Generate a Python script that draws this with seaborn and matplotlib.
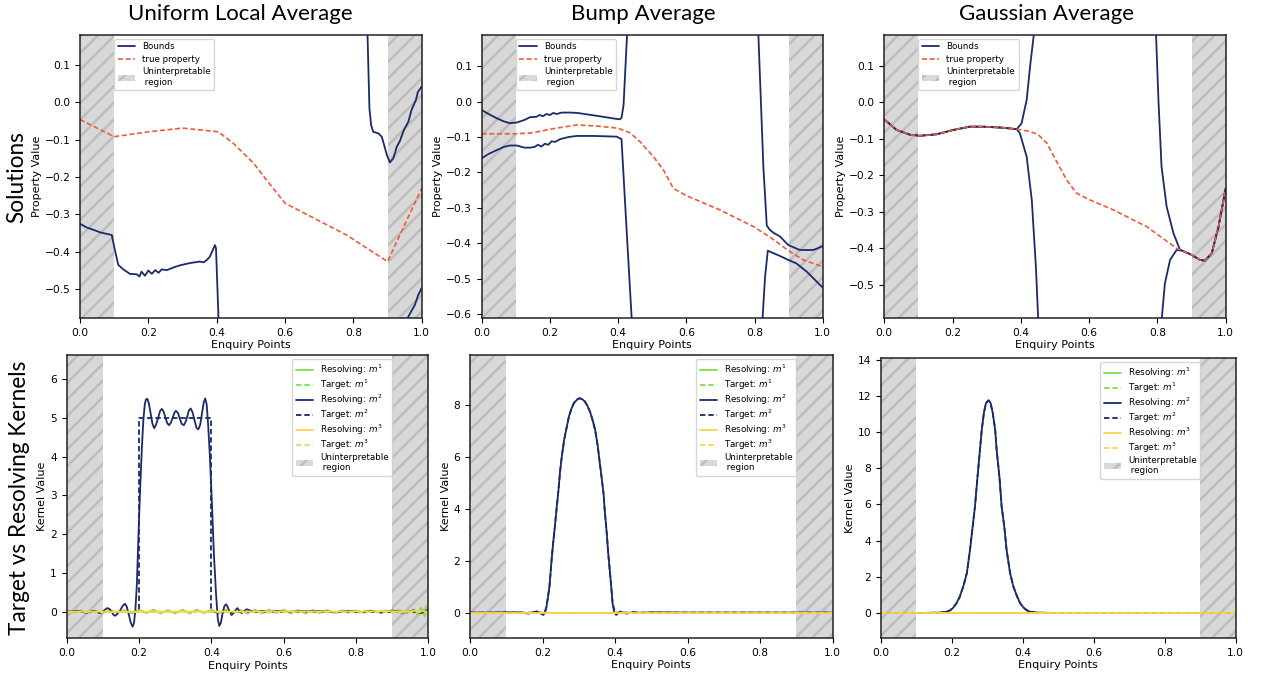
import matplotlib
matplotlib.use("Agg")
import matplotlib.pyplot as plt
from matplotlib.lines import Line2D
from matplotlib.patches import Patch
from matplotlib.ticker import MultipleLocator
import pandas as pd
import seaborn as sns

# ---------------------------------------------------------------- data
ENQUIRY_TICKS = [0.0, 0.2, 0.4, 0.6, 0.8, 1.0]
UNINTERP_SPANS = [(0.0, 0.1), (0.9, 1.0)]
COLUMN_TITLES = ["Uniform Local Average", "Bump Average", "Gaussian Average"]
ROW_TITLES = ["Solutions", "Target vs Resolving Kernels"]

# Uniform local average: true property and bounds
tl_true_x = [0.0, 0.1, 0.2, 0.3, 0.405, 0.449, 0.508, 0.546, 0.6, 0.78, 0.9, 1.0]
tl_true_y = [-0.046, -0.092, -0.079, -0.069, -0.079, -0.11, -0.163, -0.208, -0.27, -0.355, -0.426, -0.23]
tl_up_x = [0.838, 0.844, 0.847, 0.852, 0.858, 0.873, 0.883, 0.89, 0.898, 0.907, 0.917, 0.927, 0.936,
           0.948, 0.961, 0.97, 0.983, 0.989, 1.0]
tl_up_y = [0.30, 0.091, -0.016, -0.061, -0.079, -0.083, -0.092, -0.114, -0.141, -0.161, -0.15, -0.119,
           -0.104, -0.074, -0.052, -0.021, 0.006, 0.028, 0.042]
tl_lo1_x = [0.0, 0.02, 0.039, 0.059, 0.093, 0.102, 0.112, 0.127, 0.146, 0.166, 0.174, 0.18, 0.19, 0.2,
            0.21, 0.22, 0.23, 0.239, 0.254, 0.273, 0.293, 0.322, 0.351, 0.362, 0.371, 0.38, 0.395, 0.398, 0.412]
tl_lo1_y = [-0.325, -0.335, -0.341, -0.348, -0.355, -0.395, -0.435, -0.447, -0.459, -0.46, -0.466, -0.453,
            -0.464, -0.45, -0.459, -0.449, -0.456, -0.447, -0.449, -0.442, -0.436, -0.43, -0.426, -0.428,
            -0.422, -0.413, -0.382, -0.39, -0.75]
tl_lo2_x = [0.945, 0.96, 0.97, 0.98, 0.99, 1.0]
tl_lo2_y = [-0.66, -0.575, -0.558, -0.542, -0.515, -0.497]

# Bump average: true property and bounds
tm_true_x = [0.0, 0.1, 0.15, 0.2, 0.279, 0.337, 0.4, 0.435, 0.464, 0.503, 0.533, 0.562, 0.601, 0.699,
             0.797, 0.846, 0.9, 0.943, 1.0]
tm_true_y = [-0.091, -0.091, -0.088, -0.078, -0.066, -0.069, -0.075, -0.088, -0.113, -0.155, -0.193,
             -0.245, -0.266, -0.306, -0.353, -0.383, -0.421, -0.447, -0.466]
tm_up1_x = [0.0, 0.02, 0.044, 0.065, 0.083, 0.103, 0.125, 0.142, 0.16, 0.17, 0.18, 0.19, 0.2, 0.21, 0.22,
            0.235, 0.259, 0.28, 0.308, 0.35, 0.396, 0.405, 0.41, 0.416, 0.432]
tm_up1_y = [-0.024, -0.035, -0.047, -0.056, -0.061, -0.059, -0.052, -0.044, -0.043, -0.038, -0.041, -0.035,
            -0.038, -0.032, -0.035, -0.031, -0.031, -0.032, -0.036, -0.042, -0.049, -0.05, -0.046, -0.01, 0.3]
tm_up2_x = [0.805, 0.826, 0.836, 0.845, 0.855, 0.875, 0.899, 0.933, 0.972, 0.986, 1.0]
tm_up2_y = [0.35, -0.184, -0.35, -0.362, -0.37, -0.381, -0.405, -0.419, -0.419, -0.414, -0.408]
tm_lo1_x = [0.0, 0.02, 0.044, 0.065, 0.083, 0.103, 0.125, 0.142, 0.155, 0.165, 0.175, 0.185, 0.195, 0.205,
            0.215, 0.23, 0.255, 0.279, 0.33, 0.396, 0.41, 0.42, 0.445]
tm_lo1_y = [-0.16, -0.148, -0.137, -0.128, -0.124, -0.124, -0.13, -0.13, -0.128, -0.122, -0.127, -0.119,
            -0.122, -0.112, -0.114, -0.106, -0.1, -0.097, -0.097, -0.099, -0.106, -0.278, -0.7]
tm_lo2_x = [0.815, 0.831, 0.839, 0.846, 0.875, 0.899, 0.923, 0.953, 0.982, 1.0]
tm_lo2_y = [-0.75, -0.494, -0.421, -0.424, -0.436, -0.447, -0.457, -0.48, -0.508, -0.525]

# Gaussian average: true property and bounds
tr_true_x = [0.0, 0.036, 0.075, 0.104, 0.153, 0.202, 0.251, 0.29, 0.349, 0.388, 0.427, 0.451, 0.476,
             0.505, 0.534, 0.563, 0.603, 0.671, 0.769, 0.856, 0.896, 0.925, 0.939, 0.959, 0.979, 1.0]
tr_true_y = [-0.047, -0.076, -0.089, -0.092, -0.088, -0.076, -0.067, -0.067, -0.070, -0.074, -0.080,
             -0.089, -0.112, -0.163, -0.213, -0.249, -0.268, -0.295, -0.341, -0.40, -0.416, -0.432,
             -0.434, -0.414, -0.341, -0.236]
tr_up1_x = [0.0, 0.036, 0.075, 0.104, 0.153, 0.202, 0.251, 0.29, 0.349, 0.388, 0.402, 0.417, 0.427, 0.438, 0.442]
tr_up1_y = [-0.047, -0.076, -0.089, -0.092, -0.088, -0.076, -0.067, -0.067, -0.070, -0.074, -0.058, 0.006,
            0.098, 0.185, 0.30]
tr_up2_x = [0.792, 0.796, 0.803, 0.812, 0.827, 0.847, 0.866, 0.88, 0.896, 0.925, 0.939, 0.959, 0.979, 1.0]
tr_up2_y = [0.30, 0.184, 0.006, -0.176, -0.286, -0.359, -0.404, -0.41, -0.416, -0.432, -0.434, -0.414,
            -0.341, -0.236]
tr_lo1_x = [0.0, 0.036, 0.075, 0.104, 0.153, 0.202, 0.251, 0.29, 0.349, 0.388, 0.397, 0.417, 0.432, 0.444, 0.452]
tr_lo1_y = [-0.047, -0.076, -0.089, -0.092, -0.088, -0.076, -0.067, -0.067, -0.070, -0.074, -0.085, -0.149,
            -0.268, -0.45, -0.62]
tr_lo2_x = [0.81, 0.822, 0.837, 0.856, 0.871, 0.885, 0.896, 0.925, 0.939, 0.959, 0.979, 1.0]
tr_lo2_y = [-0.62, -0.496, -0.432, -0.405, -0.406, -0.412, -0.416, -0.432, -0.434, -0.414, -0.341, -0.236]

# Kernels that stay at zero over the whole domain
zero_x = [0.0, 1.0]
zero_y = [0.0, 0.0]

# Uniform local average kernels
bl_m1_x = [0.0, 0.02, 0.04, 0.06, 0.08, 0.1, 0.12, 0.14, 0.16, 0.18, 0.2, 0.22, 0.24, 0.26, 0.28, 0.3,
           0.32, 0.34, 0.36, 0.38, 0.4, 0.42, 0.44, 0.46, 0.48, 0.5, 0.52, 0.54, 0.56, 0.58, 0.6, 0.62,
           0.64, 0.66, 0.68, 0.7, 0.72, 0.74, 0.76, 0.78, 0.8, 0.82, 0.84, 0.86, 0.88, 0.9, 0.92, 0.94,
           0.96, 0.97, 0.98, 0.99, 1.0]
bl_m1_y = [0.02, -0.02, 0.03, -0.03, 0.03, -0.04, 0.04, -0.03, 0.04, -0.05, 0.05, -0.04, 0.05, -0.05,
           0.04, -0.05, 0.05, -0.05, 0.05, -0.04, 0.05, -0.05, 0.05, -0.05, 0.04, -0.05, 0.05, -0.05,
           0.05, -0.04, 0.05, -0.05, 0.04, -0.05, 0.04, -0.04, 0.04, -0.04, 0.03, -0.03, 0.03, -0.03,
           0.03, -0.02, 0.03, -0.03, 0.04, -0.05, 0.06, -0.08, 0.1, -0.12, 0.22]
bl_m2_x = [0.0, 0.028, 0.055, 0.074, 0.092, 0.102, 0.112, 0.118, 0.124, 0.129, 0.134, 0.14, 0.148,
           0.155, 0.161, 0.166, 0.171, 0.177, 0.182, 0.186, 0.19, 0.194, 0.198, 0.203, 0.208, 0.212,
           0.216, 0.219, 0.223, 0.227, 0.232, 0.237, 0.242, 0.247, 0.253, 0.258, 0.263, 0.268, 0.273,
           0.278, 0.283, 0.288, 0.293, 0.298, 0.302, 0.308, 0.313, 0.318, 0.324, 0.329, 0.334, 0.338,
           0.343, 0.348, 0.354, 0.359, 0.364, 0.369, 0.374, 0.379, 0.383, 0.387, 0.391, 0.396, 0.402,
           0.407, 0.413, 0.418, 0.422, 0.426, 0.431, 0.436, 0.441, 0.445, 0.449, 0.456, 0.464, 0.472,
           0.477, 0.484, 0.49, 0.498, 0.52, 0.54, 0.56, 0.58, 0.6, 0.65, 0.7, 0.75, 0.78, 0.81, 0.84,
           0.87, 0.9, 0.93, 0.96, 0.98, 1.0]
bl_m2_y = [0.0, 0.02, -0.03, 0.02, -0.04, 0.02, 0.09, 0.07, 0.0, -0.08, -0.11, -0.06, 0.03, 0.15, 0.2,
           0.13, -0.05, -0.28, -0.39, -0.3, 0.05, 0.7, 1.85, 3.14, 4.25, 4.95, 5.35, 5.47, 5.49, 5.38,
           5.12, 4.85, 4.73, 4.82, 5.0, 5.17, 5.23, 5.16, 5.01, 4.86, 4.81, 4.87, 5.0, 5.13, 5.18, 5.12,
           4.97, 4.84, 4.81, 4.9, 5.05, 5.19, 5.24, 5.14, 4.92, 4.74, 4.70, 4.82, 5.1, 5.4, 5.5, 5.35,
           4.85, 4.0, 2.7, 1.5, 0.45, -0.2, -0.37, -0.3, -0.05, 0.14, 0.19, 0.12, 0.03, -0.09, 0.0,
           0.09, 0.02, -0.04, 0.01, 0.06, -0.02, 0.02, -0.02, 0.02, -0.01, 0.01, 0.01, -0.02, 0.02,
           -0.02, 0.02, -0.03, 0.03, -0.03, 0.03, -0.04, 0.05]
bl_m2_target_x = [0.0, 0.2, 0.2, 0.4, 0.4, 1.0]
bl_m2_target_y = [0.0, 0.0, 5.0, 5.0, 0.0, 0.0]
bl_m3_x = [0.0, 0.25, 0.5, 0.75, 0.9, 0.93, 0.96, 1.0]
bl_m3_y = [0.0, 0.0, 0.0, 0.0, 0.01, -0.02, 0.02, 0.0]

# Bump average kernels
bm_m2_x = [0.0, 0.05, 0.1, 0.138, 0.161, 0.184, 0.202, 0.207, 0.211, 0.215, 0.219, 0.222, 0.225, 0.229,
           0.234, 0.239, 0.244, 0.248, 0.253, 0.26, 0.267, 0.273, 0.28, 0.287, 0.294, 0.298, 0.303,
           0.31, 0.317, 0.324, 0.331, 0.338, 0.345, 0.352, 0.358, 0.363, 0.368, 0.372, 0.377, 0.381,
           0.386, 0.39, 0.393, 0.398, 0.403, 0.414, 0.432, 0.45, 0.47, 0.5, 0.6, 0.8, 1.0]
bm_m2_y = [0.0, 0.0, 0.01, 0.01, -0.04, 0.05, -0.09, 0.0, 0.24, 0.6, 1.0, 1.5, 2.04, 2.65, 3.32, 4.05,
           4.74, 5.4, 6.02, 6.7, 7.18, 7.58, 7.88, 8.1, 8.2, 8.25, 8.27, 8.23, 8.14, 7.97, 7.75, 7.43,
           7.05, 6.45, 5.76, 5.2, 4.61, 3.85, 3.07, 2.3, 1.53, 0.9, 0.37, 0.0, -0.09, 0.04, -0.04, 0.02,
           -0.01, 0.01, 0.0, 0.0, 0.0]
bm_m2_target_x = [0.0, 0.2, 0.207, 0.211, 0.215, 0.219, 0.222, 0.225, 0.229, 0.234, 0.239, 0.244, 0.248,
                  0.253, 0.26, 0.267, 0.273, 0.28, 0.287, 0.294, 0.298, 0.303, 0.31, 0.317, 0.324, 0.331,
                  0.338, 0.345, 0.352, 0.358, 0.363, 0.368, 0.372, 0.377, 0.381, 0.386, 0.39, 0.393,
                  0.4, 1.0]
bm_m2_target_y = [0.0, 0.0, 0.05, 0.24, 0.6, 1.0, 1.5, 2.04, 2.65, 3.32, 4.05, 4.74, 5.4, 6.02, 6.7,
                  7.18, 7.58, 7.88, 8.1, 8.2, 8.25, 8.27, 8.23, 8.14, 7.97, 7.75, 7.43, 7.05, 6.45, 5.76,
                  5.2, 4.61, 3.85, 3.07, 2.3, 1.53, 0.9, 0.37, 0.0, 0.0]

# Gaussian average kernels
br_m2_x = [0.0, 0.1, 0.166, 0.185, 0.195, 0.204, 0.213, 0.222, 0.232, 0.242, 0.251, 0.258, 0.265, 0.272,
           0.279, 0.284, 0.29, 0.296, 0.303, 0.309, 0.315, 0.322, 0.326, 0.334, 0.34, 0.348, 0.354,
           0.364, 0.373, 0.384, 0.392, 0.402, 0.411, 0.421, 0.439, 0.5, 1.0]
br_m2_y = [0.0, 0.0, 0.02, 0.07, 0.15, 0.3, 0.55, 0.9, 1.47, 2.2, 3.5, 4.7, 5.9, 7.5, 9.02, 10.1, 11.05,
           11.6, 11.75, 11.6, 11.05, 10.1, 9.02, 7.5, 5.9, 4.7, 3.5, 2.2, 1.47, 0.9, 0.55, 0.3, 0.15,
           0.07, 0.02, 0.0, 0.0]

# axis limits per panel
TOP_YLIMS = [(-0.577, 0.18), (-0.611, 0.188), (-0.591, 0.184)]
BOTTOM_YLIMS = [(-0.69, 6.62), (-0.98, 9.94), (-1.38, 14.09)]
BOTTOM_YSTEPS = [1, 2, 2]

# ---------------------------------------------------------------- style
NAVY = "#1b2a6b"
RED = "#f25a36"
GREEN = "#7edf4c"
YELLOW = "#f8d44a"
SHADE = "gray"
SHADE_LABEL = "Uninterpretable\n region"

sns.set_style("ticks")
plt.rcParams.update({
    "font.family": ["DejaVu Sans"],
    "axes.edgecolor": "#222222",
    "axes.linewidth": 1.1,
    "xtick.color": "black",
    "ytick.color": "black",
    "text.color": "black",
    "axes.labelcolor": "black",
    "xtick.labelsize": 7.7,
    "ytick.labelsize": 7.7,
    "xtick.major.size": 3.5,
    "ytick.major.size": 3.5,
    "axes.labelsize": 8,
    "legend.fontsize": 6.3,
    "hatch.linewidth": 1.8,
})


def curve(ax, x, y, color, ls="-", lw=1.3):
    frame = pd.DataFrame({"x": x, "y": y})
    sns.lineplot(data=frame, x="x", y="y", ax=ax, color=color, linestyle=ls, linewidth=lw,
                 sort=False, estimator=None, legend=False)


def shade(ax):
    for a, b in UNINTERP_SPANS:
        ax.axvspan(a, b, facecolor=SHADE, edgecolor=SHADE, alpha=0.3, hatch="//", lw=0, zorder=1)


def shade_handle():
    return Patch(facecolor=SHADE, edgecolor=SHADE, alpha=0.3, hatch="//", lw=0, label=SHADE_LABEL)


DASH = (0, (3.0, 1.6))

fig = plt.figure(figsize=(12.61, 6.75), dpi=100)
W, H = 1261.0, 675.0


def place(left, top, right, bottom):
    return fig.add_axes([left / W, 1 - bottom / H, (right - left) / W, (bottom - top) / H])


top_axes = [place(80, 35, 421.7, 318), place(481.7, 35, 822.7, 318), place(884.3, 35, 1225.7, 318)]
bot_axes = [place(66.7, 355, 428.3, 638.3), place(470, 355, 832.7, 638), place(881, 358, 1235.7, 638)]

# ---------------------------------------------------------------- solutions
top_data = [
    (tl_true_x, tl_true_y, [(tl_up_x, tl_up_y), (tl_lo1_x, tl_lo1_y), (tl_lo2_x, tl_lo2_y)]),
    (tm_true_x, tm_true_y, [(tm_up1_x, tm_up1_y), (tm_up2_x, tm_up2_y),
                            (tm_lo1_x, tm_lo1_y), (tm_lo2_x, tm_lo2_y)]),
    (tr_true_x, tr_true_y, [(tr_up1_x, tr_up1_y), (tr_up2_x, tr_up2_y),
                            (tr_lo1_x, tr_lo1_y), (tr_lo2_x, tr_lo2_y)]),
]
for ax, (tx, ty, bounds), ylim in zip(top_axes, top_data, TOP_YLIMS):
    shade(ax)
    for bx, by in bounds:
        curve(ax, bx, by, NAVY, lw=1.3)
    curve(ax, tx, ty, RED, ls=DASH, lw=1.2)
    ax.set_xlim(0, 1)
    ax.set_ylim(*ylim)
    ax.set_xticks(ENQUIRY_TICKS)
    ax.yaxis.set_major_locator(MultipleLocator(0.1))
    ax.set_xlabel("Enquiry Points", labelpad=2)
    ax.set_ylabel("Property Value", labelpad=2)
    handles = [Line2D([], [], color=NAVY, lw=1.3, label="Bounds"),
               Line2D([], [], color=RED, ls=DASH, lw=1.2, label="true property"),
               shade_handle()]
    ax.legend(handles=handles, loc="upper left", bbox_to_anchor=(0.1, 0.986), borderaxespad=0,
              labelspacing=0.4)

# ---------------------------------------------------------------- kernels
bot_data = [
    ((bl_m1_x, bl_m1_y), (zero_x, zero_y), (bl_m2_x, bl_m2_y), (bl_m2_target_x, bl_m2_target_y),
     (bl_m3_x, bl_m3_y), (zero_x, zero_y)),
    ((zero_x, zero_y), (zero_x, zero_y), (bm_m2_x, bm_m2_y), (bm_m2_target_x, bm_m2_target_y),
     (zero_x, zero_y), (zero_x, zero_y)),
    ((zero_x, zero_y), (zero_x, zero_y), (br_m2_x, br_m2_y), (br_m2_x, br_m2_y),
     (zero_x, zero_y), (zero_x, zero_y)),
]
kernel_colors = [GREEN, GREEN, NAVY, NAVY, YELLOW, YELLOW]
kernel_styles = ["-", DASH, "-", DASH, "-", DASH]
kernel_labels = ["Resolving: $m^1$", "Target: $m^1$", "Resolving: $m^2$", "Target: $m^2$",
                 "Resolving: $m^3$", "Target: $m^3$"]

for ax, series, ylim, step in zip(bot_axes, bot_data, BOTTOM_YLIMS, BOTTOM_YSTEPS):
    shade(ax)
    for (kx, ky), col, ls in zip(series, kernel_colors, kernel_styles):
        curve(ax, kx, ky, col, ls=ls, lw=1.3)
    ax.set_xlim(0, 1)
    ax.set_ylim(*ylim)
    ax.set_xticks(ENQUIRY_TICKS)
    ax.yaxis.set_major_locator(MultipleLocator(step))
    ax.set_xlabel("Enquiry Points", labelpad=2)
    ax.set_ylabel("Kernel Value", labelpad=2)
    handles = [Line2D([], [], color=c, ls=s, lw=1.3, label=l)
               for c, s, l in zip(kernel_colors, kernel_styles, kernel_labels)]
    handles.append(shade_handle())
    ax.legend(handles=handles, loc="upper right", bbox_to_anchor=(0.9, 0.986), borderaxespad=0,
              labelspacing=0.08)

# ---------------------------------------------------------------- headings
for title, xc in zip(COLUMN_TITLES, [240, 643.8, 1046.7]):
    fig.text(xc / W, 1 - 20 / H, title, ha="center", va="baseline", fontsize=16, family="Lato")
for title, (xc, yc) in zip(ROW_TITLES, [(17, 177), (20, 497.5)]):
    fig.text(xc / W, 1 - yc / H, title, ha="center", va="center", rotation=90,
             fontsize=16.3, family="Lato")

fig.savefig("out.png", dpi=100)
